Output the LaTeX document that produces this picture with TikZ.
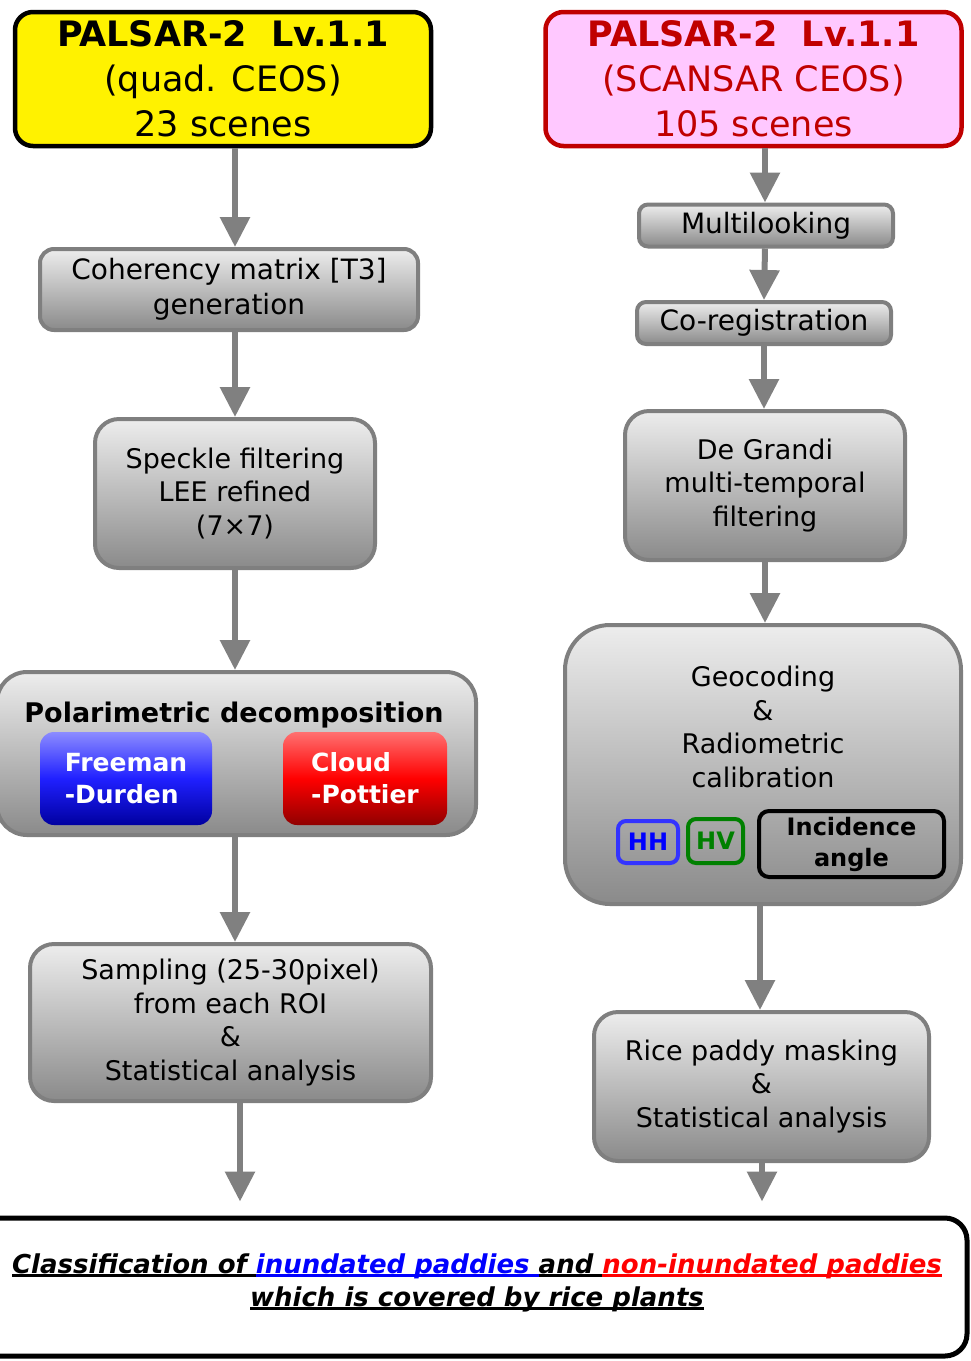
\documentclass[tikz,border=0pt]{standalone}
\usepackage{fontspec}
\setmainfont{DejaVu Sans}
\usetikzlibrary{arrows.meta,calc}
\definecolor{boxgray}{HTML}{7F7F7F}
\definecolor{arrgray}{HTML}{808080}
\definecolor{gtop}{HTML}{EDEDED}
\definecolor{gbot}{HTML}{8A8A8A}
\definecolor{pinkfill}{HTML}{FFC8FF}
\definecolor{darkred}{HTML}{C00000}
\definecolor{fdtop}{HTML}{8C8CFF}
\definecolor{fdmid}{HTML}{2020FF}
\definecolor{fdbot}{HTML}{0000A0}
\definecolor{cptop}{HTML}{FF7070}
\definecolor{cpmid}{HTML}{FF0000}
\definecolor{cpbot}{HTML}{900000}
\definecolor{hhblue}{HTML}{3333FF}
\definecolor{hvgreen}{HTML}{008000}
\newcommand\ulx[1]{\leavevmode\setbox0\hbox{#1}\rlap{\rule[-3pt]{\wd0}{2.2pt}}\box0}
\begin{document}
\begin{tikzpicture}[x=1pt,y=-1pt,
  proc/.style={draw=boxgray, line width=4, top color=gtop, bottom color=gbot,
    align=center, inner sep=0, font=\fontsize{27}{33.5}\selectfont},
  hdr/.style={line width=4.5, rounded corners=18, align=center, inner sep=0,
    minimum width=416, minimum height=134, font=\fontsize{35}{45}\selectfont},
  arr/.style={draw=arrgray, line width=6, -{Triangle[width=29pt,length=30pt]}},
  dec/.style={rounded corners=14, inner sep=0, align=left, text=white,
    font=\bfseries\fontsize{25}{32}\selectfont},
  pol/.style={line width=4, rounded corners=8, inner sep=0, align=center,
    font=\bfseries\fontsize{24}{31}\selectfont},
  lbl/.style={inner sep=0, align=center}
]
\useasboundingbox (0,0) rectangle (971,1361);
% sources
\node[hdr, draw=black, fill=yellow] (src1) at (223,79)
  {\textbf{PALSAR-2\ \ Lv.1.1}\\(quad. CEOS)\\23 scenes};
\node[hdr, draw=darkred, fill=pinkfill, text=darkred] (src2) at (753.5,79)
  {\textbf{PALSAR-2\ \ Lv.1.1}\\(SCANSAR CEOS)\\105 scenes};
% left column
\node[proc, rounded corners=14, minimum width=378, minimum height=81,
  font=\fontsize{28}{35}\selectfont] (coh) at (229,289.5)
  {Coherency matrix [T3]\\generation};
\node[proc, rounded corners=24, minimum width=280, minimum height=149] (spk) at (235,493.5)
  {Speckle filtering\\LEE refined\\(7×7)};
\node[proc, rounded corners=30, minimum width=479, minimum height=163] (polar) at (236.5,753.5) {};
\node[lbl, font=\bfseries\fontsize{27}{33}\selectfont] (poltitle) at (234,715) {Polarimetric decomposition};
\node[dec, top color=fdtop, bottom color=fdbot, middle color=fdmid,
  minimum width=172, minimum height=93] (fd) at (126,778.5) {Freeman\\-Durden};
\node[dec, top color=cptop, bottom color=cpbot, middle color=cpmid,
  minimum width=164, minimum height=93] (cp) at (365,778.5) {Cloud\\-Pottier};
\node[proc, rounded corners=24, minimum width=401, minimum height=157] (samp) at (230.5,1022.5)
  {Sampling (25-30pixel)\\from each ROI\\\&\\Statistical analysis};
% right column
\node[proc, rounded corners=9, minimum width=254, minimum height=42,
  font=\fontsize{28}{35}\selectfont] (multi) at (766,225.5) {Multilooking};
\node[proc, rounded corners=9, minimum width=254, minimum height=42,
  font=\fontsize{28}{35}\selectfont] (coreg) at (764,323) {Co-registration};
\node[proc, rounded corners=24, minimum width=280, minimum height=149] (degr) at (765,485.5)
  {De Grandi\\multi-temporal\\filtering};
\node[proc, rounded corners=45, minimum width=396, minimum height=279] (geo) at (763,764.5) {};
\node[lbl, font=\fontsize{27}{33.7}\selectfont] (geotext) at (763,727)
  {Geocoding\\\&\\Radiometric\\calibration};
\node[pol, draw=hhblue, text=blue, minimum width=60, minimum height=42] (hh) at (648,842) {HH};
\node[pol, draw=hvgreen, text=hvgreen, minimum width=55, minimum height=44] (hv) at (715.5,841) {HV};
\node[pol, draw=black, text=black, rounded corners=10, minimum width=185, minimum height=66] (inc) at (851.5,844)
  {Incidence\\angle};
\node[proc, rounded corners=24, minimum width=335, minimum height=149] (rice) at (761.5,1086.5)
  {Rice paddy masking\\\&\\Statistical analysis};
% result
\node[draw=black, line width=5, rounded corners=22, fill=white, minimum width=997, minimum height=138,
  inner sep=0] (res) at (468.5,1287) {};
\node[lbl, font=\bfseries\itshape\fontsize{26}{33}\selectfont] (restext) at (477,1283)
  {\ulx{Classification of }{\color{blue}\ulx{inundated paddies }}\ulx{and }{\color{red}\ulx{non-inundated paddies}}\\
   \ulx{which is covered by rice plants}};
% arrows
\draw[arr] ([xshift=12]src1.south) -- ([xshift=6]coh.north);
\draw[arr] ([xshift=6]coh.south) -- (spk.north);
\draw[arr] (spk.south) -- ([xshift=-1.5]polar.north);
\draw[arr] ([xshift=-1.5]polar.south) -- ([xshift=4.5]samp.north);
\draw[arr, shorten >=14] ([xshift=9.5]samp.south) -- ([xshift=9.5]samp.south |- res.north);
\draw[arr] ([xshift=11.5]src2.south) -- ([xshift=-1]multi.north);
\draw[arr] ([xshift=-1]multi.south) -- (coreg.north);
\draw[arr] (coreg.south) -- ([xshift=-1]degr.north);
\draw[arr] (degr.south) -- ([xshift=2]geo.north);
\draw[arr] ([xshift=-3]geo.south) -- ([xshift=-1.5]rice.north);
\draw[arr, shorten >=14] ([xshift=0.5]rice.south) -- ([xshift=0.5]rice.south |- res.north);
\end{tikzpicture}
\end{document}
